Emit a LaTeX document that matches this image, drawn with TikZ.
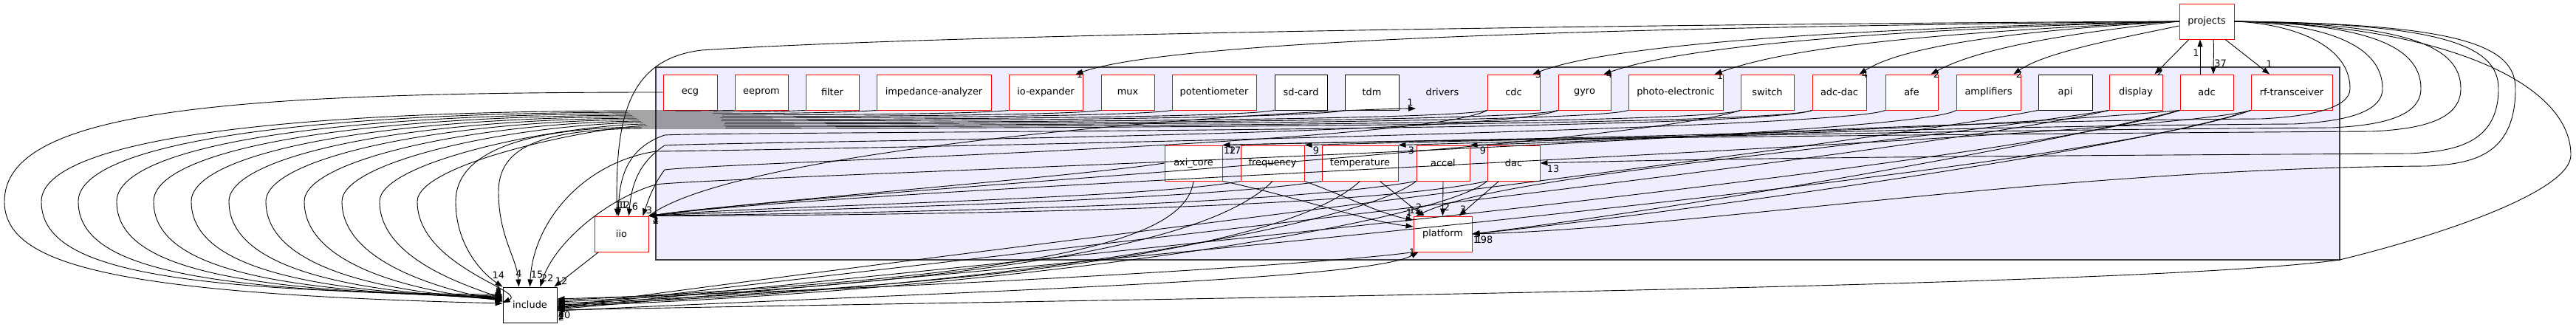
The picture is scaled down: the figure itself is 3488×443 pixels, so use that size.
\documentclass[tikz,border=0pt]{standalone}
\usepackage{fontspec}
\setmainfont{DejaVu Sans}
\usetikzlibrary{arrows.meta,calc}
\definecolor{clusterfill}{HTML}{EEEEFF}
\newcommand\dirfont{\fontsize{12.9}{15}\selectfont}
\tikzset{
  dirnode/.style={draw=red, fill=white, line width=0.9pt, minimum height=48pt, inner sep=0pt, font=\dirfont},
  plainnode/.style={dirnode, draw=black},
  dep/.style={-{Triangle[length=10pt,width=7pt]}, line width=0.9pt},
  cnt/.style={font=\dirfont, inner sep=1pt},
}

\begin{document}
\begin{tikzpicture}[x=1pt, y=-1pt]
\useasboundingbox (0,0) rectangle (3488,443);

% drivers cluster
\draw[black!75, fill=clusterfill, line width=1.2pt] (888,91) rectangle (3168,352);
\node[cnt] (drvlabel) at (1953,125) {drivers};
\coordinate (drv) at (1917,147);

% first row
\node[dirnode, minimum width=73pt] (ecg) at (934.5,125) {ecg};
\node[dirnode, minimum width=72pt] (eeprom) at (1031,125) {eeprom};
\node[dirnode, minimum width=72pt] (filter) at (1127,125) {filter};
\node[dirnode, minimum width=155pt] (impan) at (1264.5,125) {impedance-analyzer};
\node[dirnode, minimum width=100pt] (ioexp) at (1416,125) {io-expander};
\node[dirnode, minimum width=72pt] (mux) at (1527,125) {mux};
\node[dirnode, minimum width=114pt] (potmeter) at (1644,125) {potentiometer};
\node[plainnode, minimum width=71pt] (sdcard) at (1761.5,125) {sd-card};
\node[plainnode, minimum width=73pt] (tdm) at (1857.5,125) {tdm};
\node[dirnode, minimum width=71pt] (cdc) at (2049.5,125) {cdc};
\node[dirnode, minimum width=71pt] (gyro) at (2145.5,125) {gyro};
\node[dirnode, minimum width=128pt] (photoel) at (2269,125) {photo-electronic};
\node[dirnode, minimum width=72pt] (switchdir) at (2393,125) {switch};
\node[dirnode, minimum width=73pt] (adcdac) at (2490.5,125) {adc-dac};
\node[dirnode, minimum width=71pt] (afe) at (2588.5,125) {afe};
\node[dirnode, minimum width=87pt] (ampl) at (2692.5,125) {amplifiers};
\node[plainnode, minimum width=73pt] (api) at (2796.5,125) {api};
\node[dirnode, minimum width=72pt] (display) at (2892,125) {display};
\node[dirnode, minimum width=72pt] (adc) at (2988,125) {adc};
\node[dirnode, minimum width=110pt] (rftrx) at (3103,125) {rf-transceiver};

% second and third row
\node[dirnode, minimum width=78pt] (axicore) at (1616,221) {axi\_core};
\node[dirnode, minimum width=86pt] (freq) at (1723,221) {frequency};
\node[dirnode, minimum width=103pt] (temp) at (1841.5,221) {temperature};
\node[dirnode, minimum width=72pt] (accel) at (1954,221) {accel};
\node[dirnode, minimum width=71pt] (dac) at (2049.5,221) {dac};
\node[dirnode, minimum width=79pt] (platform) at (1953.5,317) {platform};

% outside the cluster
\node[dirnode, minimum width=73pt] (iio) at (841.5,317) {iio};
\node[plainnode, minimum width=73pt] (include) at (717.5,413) {include};
\node[dirnode, minimum width=74pt] (projects) at (2988,29) {projects};

% round the left into include
\draw[dep] (ecg.west) .. controls (300,125) and (6,150) .. (6,273)
  .. controls (6,360) and (156,398) .. ([yshift=2]include.west) node[cnt, anchor=south east]{2};
\foreach \n/\ax/\yb/\ys/\lab in {eeprom/56/150/14/1, filter/106/152/12/3, impan/158/154/11/5,
    ioexp/208/156/10/8, mux/259/158/9/2, potmeter/310/160/8/6, sdcard/360/162/7/1,
    tdm/412/164/6/9, cdc/463/166/5/3, gyro/514/168/4/4, photoel/565/170/3/2}
  \draw[dep] (\n.south west) .. controls +(-60,{\yb-149}) and +(60,0) .. (880,\yb)
    .. controls ({\ax+250},\yb) and (\ax,{\yb+50}) .. (\ax,273)
    .. controls (\ax,360) and ({\ax+150},395) .. ([yshift=\ys]include.west)
    node[cnt, anchor=south east]{\lab};
\draw[dep] (switchdir.south west) .. controls +(-60,23) and +(60,0) .. (880,172)
  .. controls (700,172) and (617,210) .. (617,273)
  .. controls (617,330) and (650,368) .. (include.north west) node[cnt, anchor=south east, xshift=4, yshift=10]{14};
\draw[dep] (adcdac.south west) .. controls +(-60,25) and +(60,0) .. (880,174)
  .. controls (730,174) and (675,200) .. (675,260)
  .. controls (675,320) and (700,350) .. ([xshift=-15]include.north) node[cnt, anchor=south, yshift=12]{4};
\draw[dep] (afe.south west) .. controls +(-60,28) and +(60,0) .. (888,205)
  .. controls (790,220) and (722,300) .. (include.north) node[cnt, anchor=south west, yshift=10]{15};
\draw[dep] (ampl.south west) .. controls +(-60,40) and +(60,-10) .. (888,250)
  .. controls (820,270) and (750,330) .. ([xshift=14]include.north) node[cnt, anchor=south west, yshift=6]{22};
\draw[dep] ([xshift=6]iio.south west) -- ([xshift=-4]include.north east) node[cnt, anchor=south west, yshift=2]{12};

% into iio
\draw[dep] (projects.west) .. controls (2300,32) and (1300,45) .. (950,68)
  .. controls (850,80) and (833,160) .. ([xshift=-6]iio.north) node[cnt, anchor=south west, xshift=-4, yshift=9]{11};
\draw[dep] (adcdac.south west) .. controls +(-80,30) and +(80,-5) .. (900,183)
  .. controls (850,200) and (838,240) .. ([xshift=-4]iio.north) node[cnt, anchor=south west, xshift=-2, yshift=9]{12};
\draw[dep] (gyro.south west) .. controls +(-80,35) and +(80,-5) .. (900,197)
  .. controls (865,220) and (855,250) .. ([xshift=10]iio.north) node[cnt, anchor=south west, xshift=3, yshift=6]{6};
\draw[dep] (cdc.south west) .. controls +(-80,45) and +(80,-10) .. (900,230)
  .. controls (885,250) and (878,270) .. ([xshift=-8]iio.north east) node[cnt, anchor=south west, xshift=3, yshift=1]{3};
\foreach \n/\ax/\ay/\bx/\by/\lab in {axicore.west/1450/240/1000/275/1, freq.south west/1550/270/1000/280/1,
    temp.south west/1600/275/1000/285/4, accel.south west/1700/285/1000/290/1,
    dac.south west/1800/290/1050/292/1, switchdir.south west/2200/200/1100/260/2, rftrx.south west/2900/190/1200/250/1}
  \draw[dep] (\n) .. controls (\ax,\ay) and (\bx,\by) .. (iio.north east) node[cnt, anchor=north west, xshift=4]{\lab};
\draw[dep] (iio.north east) .. controls (1000,200) and (1700,150) .. (drv) node[cnt, anchor=south east, xshift=-2, yshift=2]{1};

% into platform
\draw[dep] (axicore.south east) .. controls (1750,265) and (1850,300) .. ([yshift=10]platform.west) node[cnt, anchor=south east, yshift=6]{1};
\draw[dep] (freq.south east) .. controls (1820,265) and (1870,290) .. ([yshift=19]platform.west) node[cnt, anchor=south east, yshift=4]{1};
\draw[dep] ([xshift=-25]temp.south east) -- ([xshift=-27]platform.north) node[cnt, anchor=south east, yshift=6]{2};
\draw[dep] (accel.south) -- (platform.north) node[cnt, anchor=south west, yshift=6]{2};
\draw[dep] ([xshift=-20]dac.south) -- ([xshift=22]platform.north) node[cnt, anchor=south west, yshift=2]{3};
\draw[dep] (display.south west) .. controls (2500,205) and (2040,235) .. ([xshift=4]platform.north west) node[cnt, anchor=south east, yshift=2]{1};
\draw[dep] (adc.south west) .. controls (2800,190) and (2300,280) .. (platform.east) node[cnt, anchor=north west, yshift=-2]{1};
\draw[dep] (rftrx.south west) .. controls (2900,200) and (2300,285) .. (platform.east) node[cnt, anchor=north west, xshift=3, yshift=-2]{1};
\draw[dep] ([yshift=-8]include.east) .. controls (1300,395) and (1850,380) .. ([xshift=-33]platform.south) node[cnt, anchor=east, xshift=-3]{1};

% into include from the right
\foreach \n/\ax/\ay/\bx/\by/\ys/\lab in {platform.south west/1850/352/1400/385/8/5, axicore.south/1605/330/1400/375/6/2,
    freq.south/1650/320/1400/380/4/2, temp.south/1750/330/1400/385/2/4, accel.south west/1850/300/1400/390/0/1,
    dac.south west/1950/300/1400/392/-2/1, api.south west/2500/200/1300/340/-3/2,
    display.south west/2600/210/1300/350/-4/1, adc.south west/2700/230/1300/360/-5/40, rftrx.south west/2800/240/1300/370/-6/2}
  \draw[dep] (\n) .. controls (\ax,\ay) and (\bx,\by) .. ([yshift=\ys]include.east) node[cnt, anchor=north west, yshift=-2]{\lab};

% projects, left side
\draw[dep] (projects.west) .. controls (2300,36) and (1600,50) .. ([xshift=-10]ioexp.north east) node[cnt, anchor=north west, yshift=6]{1};
\draw[dep] (projects.west) .. controls (2500,38) and (2180,60) .. ([xshift=-10]cdc.north east) node[cnt, anchor=north west, xshift=2, yshift=6]{3};
\draw[dep] (projects.west) .. controls (2550,40) and (2280,62) .. ([xshift=-10]gyro.north east) node[cnt, anchor=north west, xshift=2, yshift=6]{4};
\draw[dep] (projects.west) .. controls (2600,45) and (2420,65) .. ([xshift=-12]photoel.north east) node[cnt, anchor=north west, xshift=2, yshift=4]{1};
\draw[dep] (projects.west) .. controls (2750,40) and (2580,60) .. ([xshift=-10]adcdac.north east) node[cnt, anchor=north west, xshift=2, yshift=6]{4};
\draw[dep] (projects.west) .. controls (2800,45) and (2680,65) .. ([xshift=-10]afe.north east) node[cnt, anchor=north west, xshift=2, yshift=6]{2};
\draw[dep] ([yshift=-6]projects.west) .. controls (2880,50) and (2770,70) .. ([xshift=-10]ampl.north east) node[cnt, anchor=north west, xshift=2, yshift=6]{2};
\draw[dep] ([xshift=-24]projects.south) -- ([xshift=-11]display.north east) node[cnt, anchor=north west, xshift=2, yshift=9]{2};
\draw[dep] ([xshift=9]projects.south) .. controls (2998,70) and (2997,80) .. ([xshift=9]adc.north) node[cnt, anchor=south west, yshift=8]{37};
\draw[dep] ([xshift=-9]adc.north) -- node[cnt, pos=0.62, left]{1} ([xshift=-9]projects.south);
\draw[dep] ([xshift=25]projects.south) -- ([xshift=-30]rftrx.north) node[cnt, anchor=south west, xshift=-6, yshift=8]{1};

% projects, round the right
\foreach \t/\xp/\yr/\lx/\lab in {accel.north east/3182/158/12/9, temp.north east/3226/165/12/3,
    freq.north east/3278/170/10/9, axicore.north east/3332/175/7/17, dac.east/3383/205/8/13, platform.east/3406/222/10/98}
  \draw[dep] (projects.east) .. controls ({\xp-80},32) and (\xp,60) .. (\xp,120)
    .. controls (\xp,{\yr-10}) and ({\xp-60},\yr) .. ({\xp-120},{\yr+3})
    .. controls +(-500,3) and +(300,-8) .. (\t) node[cnt, anchor=north west, xshift=\lx, yshift=-1]{\lab};
\draw[dep] (adc.south west) .. controls +(-400,35) and +(400,-10) .. (axicore.north east) node[cnt, anchor=north west, yshift=-1]{12};
\draw[dep] (projects.east) .. controls (3300,33) and (3481,110) .. (3481,210)
  .. controls (3481,260) and (3300,320) .. (3168,352)
  .. controls (2900,390) and (1500,405) .. ([yshift=-7]include.east) node[cnt, anchor=north west, yshift=-3]{2};
\end{tikzpicture}
\end{document}
